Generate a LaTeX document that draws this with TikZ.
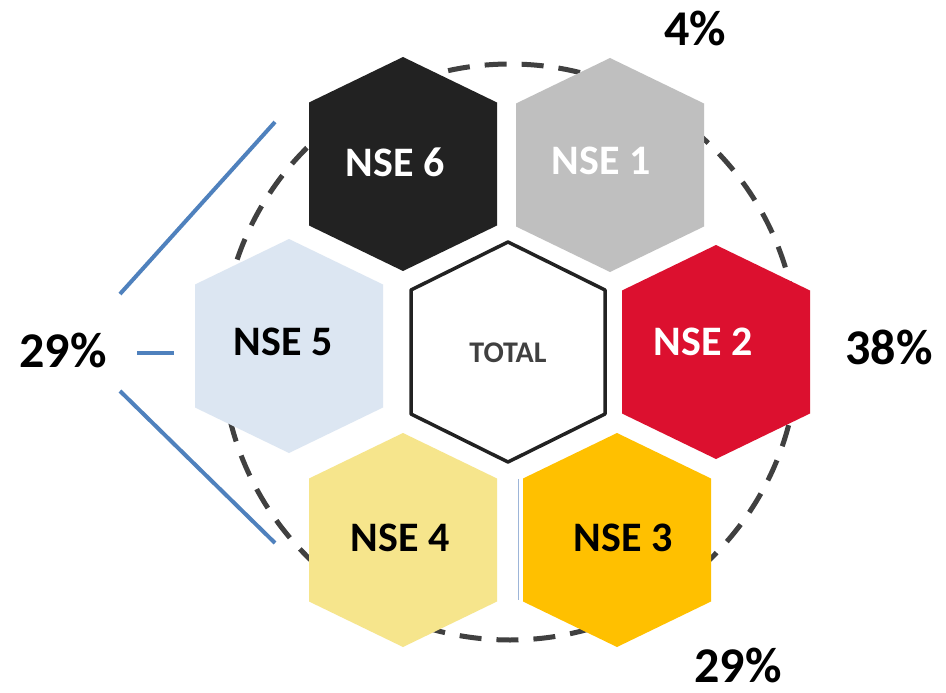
\documentclass[tikz,border=0pt]{standalone}
\usepackage{fontspec}
\setmainfont{Carlito}
\definecolor{dashgray}{HTML}{404040}
\definecolor{hexdark}{HTML}{222222}
\definecolor{hexgray}{HTML}{BFBFBF}
\definecolor{hexblue}{HTML}{DCE6F2}
\definecolor{hexred}{HTML}{DC102F}
\definecolor{hexlyellow}{HTML}{F6E58C}
\definecolor{hexorange}{HTML}{FFC000}
\definecolor{lineblue}{HTML}{4F81BD}
\definecolor{thinblue}{HTML}{9DB5D8}
\tikzset{
  hexa/.pic={\path[pic actions] (-94,-61.5) -- (0,-107) -- (94,-61.5) -- (94,61.5) -- (0,107) -- (-94,61.5) -- cycle;},
  hexb/.pic={\path[pic actions] (-97,-62) -- (0,-110) -- (97,-62) -- (97,62) -- (0,110) -- (-97,62) -- cycle;},
  hexlabel/.style={font=\fontsize{42}{46}\selectfont\bfseries, inner sep=0pt},
  pctlabel/.style={font=\fontsize{50}{54}\selectfont\bfseries, inner sep=0pt},
  blueline/.style={draw=lineblue, line width=4},
}
\begin{document}
\begin{tikzpicture}[x=1pt,y=-1pt]
\useasboundingbox[fill=white] (0,0) rectangle (946,693);
% dashed circle
\draw[dashgray, line width=5, dash pattern=on 22 off 15] (510,352) circle[radius=288];
% hexagons
\pic[fill=hexdark] at (403,164) {hexa};
\pic[fill=hexgray] at (610,165) {hexa};
\pic[fill=hexblue] at (289,346) {hexa};
\pic[fill=white, draw=hexdark, line width=3.5, line join=round] at (508,352) {hexb};
\pic[fill=hexred] at (716,352) {hexa};
\pic[fill=hexlyellow] at (403,540) {hexa};
\pic[fill=hexorange] at (617,540) {hexa};
% thin separator
\coordinate (sepA) at (518,479);
\coordinate (sepB) at (518,600);
\draw[thinblue, line width=1] (sepA) -- (sepB);
% labels
\node[hexlabel, text=white] (n6) at (395,162) {NSE 6};
\node[hexlabel, text=white] (n1) at (601,161) {NSE 1};
\node[hexlabel, text=black] (n5) at (283,342) {NSE 5};
\node[font=\fontsize{30}{34}\selectfont\bfseries, text=dashgray, inner sep=0pt] (tot) at (508,353) {TOTAL};
\node[hexlabel, text=white] (n2) at (703,342) {NSE 2};
\node[hexlabel, text=black] (n4) at (400,538) {NSE 4};
\node[hexlabel, text=black] (n3) at (623,538) {NSE 3};
% percentages
\node[pctlabel] (p4) at (695,28) {4\%};
\node[pctlabel] (p38) at (889,347) {38\%};
\node[pctlabel] (p29b) at (738,665) {29\%};
\node[pctlabel] (p29l) at (63,350) {29\%};
% blue bracket lines
\coordinate (b1a) at (275,122);
\coordinate (b1b) at (120,294);
\coordinate (b2a) at (137,353);
\coordinate (b2b) at (174,353);
\coordinate (b3a) at (120,391);
\coordinate (b3b) at (275,543);
\draw[blueline] (b1a) -- (b1b);
\draw[blueline] (b2a) -- (b2b);
\draw[blueline] (b3a) -- (b3b);
\end{tikzpicture}
\end{document}
